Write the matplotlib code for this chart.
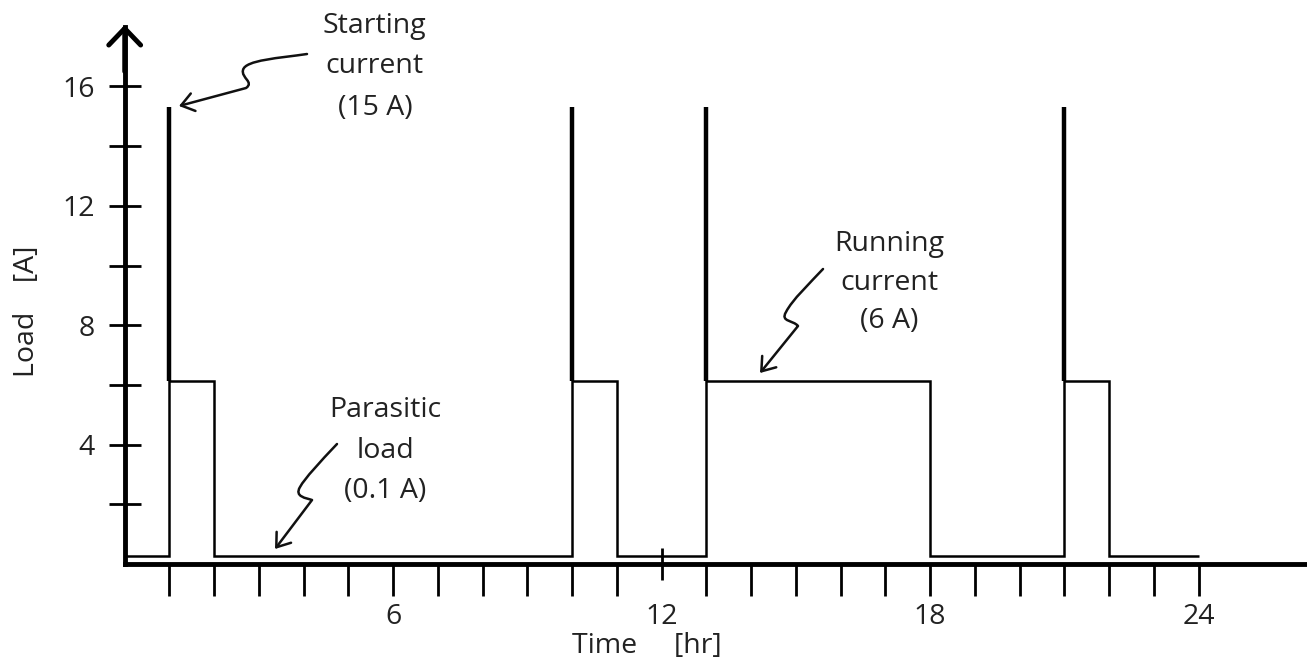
import matplotlib
matplotlib.use("Agg")
import matplotlib.pyplot as plt
from matplotlib.path import Path
from matplotlib.patches import FancyArrowPatch

# ---------------- data ----------------
step_times = [0, 1, 2, 10, 11, 13, 18, 21, 22, 24]          # hours
step_loads = [0.27, 6.14, 0.27, 6.14, 0.27, 6.14, 0.27, 6.14, 0.27]  # A
start_times = [1, 10, 13, 21]                                 # hours
start_peaks = [15.3, 15.3, 15.3, 15.3]                        # A
running_level = 6.14

x_major = [6, 12, 18, 24]
x_major_labels = ["6", "12", "18", "24"]
x_minor = [h for h in range(1, 24) if h not in x_major]
y_major = [4, 8, 12, 16]
y_major_labels = ["4", "8", "12", "16"]
y_minor = [2, 6, 10, 14]

# ---------------- figure ----------------
W, H, DPI = 1307, 661, 100
PX_HR, PX_A = 44.75, 29.85
X0, Y0 = 124.7, 564.0

plt.rcParams['font.family'] = ['Open Sans', 'DejaVu Sans']
TXT = '#222222'
FS = 20.5

fig = plt.figure(figsize=(W / DPI, H / DPI), dpi=DPI)
ax = fig.add_axes([0, 0, 1, 1])
ax.set_xlim(-X0 / PX_HR, (W - X0) / PX_HR)
ax.set_ylim(-(H - Y0) / PX_A, Y0 / PX_A)
ax.patch.set_visible(False)

for s in ('top', 'right'):
    ax.spines[s].set_visible(False)
ax.spines['left'].set_position(('data', 0))
ax.spines['bottom'].set_position(('data', 0))
ax.spines['left'].set_bounds(0, 18.0)
ax.spines['bottom'].set_bounds(0, 26.6)
for s in ('left', 'bottom'):
    ax.spines[s].set_linewidth(3.5)
    ax.spines[s].set_color('black')

# axis arrow heads
head = '->,head_length=1.2,head_width=1.15'
ax.annotate('', xy=(0, 18.06), xytext=(0, 16.5),
            arrowprops=dict(arrowstyle=head, lw=3.5, color='black',
                            shrinkA=0, shrinkB=0, mutation_scale=10))
ax.annotate('', xy=(26.55, 0), xytext=(25.0, 0),
            arrowprops=dict(arrowstyle=head, lw=3.5, color='black',
                            shrinkA=0, shrinkB=0, mutation_scale=10))

# ticks
ax.set_xticks(x_major, x_major_labels)
ax.set_xticks(x_minor, minor=True)
ax.set_yticks(y_major, y_major_labels)
ax.set_yticks(y_minor, minor=True)
ax.tick_params(axis='x', which='both', direction='out', length=23, width=2,
               color='black')
ax.tick_params(axis='x', which='major', pad=5, labelsize=FS, labelcolor=TXT)
ax.tick_params(axis='y', which='both', direction='inout', length=23, width=2,
               color='black')
ax.tick_params(axis='y', which='major', pad=9.9, labelsize=FS, labelcolor=TXT)
t12 = ax.xaxis.get_major_ticks()[1]
t12.tick1line.set_marker('|')
t12.tick1line.set_markersize(23)

# axis labels
ax.set_xlabel('Time     [hr]', fontsize=FS, color=TXT)
ax.xaxis.set_label_coords(647 / W, (H - 646) / H)
ax.xaxis.label.set_va('center')
ax.set_ylabel('Load    [A]', fontsize=FS, color=TXT)
ax.yaxis.set_label_coords(27 / W, (H - 311) / H)
ax.yaxis.label.set_va('center')
ax.yaxis.label.set_rotation_mode('anchor')

# ---------------- marks ----------------
ax.stairs(step_loads, step_times, baseline=None, color='black', lw=1.8)
ax.vlines(start_times, running_level, start_peaks, color='black', lw=3.2)

# ---------------- annotations ----------------
def squiggle(verts):
    codes = [Path.MOVETO, Path.CURVE4, Path.CURVE4, Path.CURVE4,
             Path.CURVE4, Path.CURVE4, Path.CURVE4, Path.LINETO]
    p = FancyArrowPatch(path=Path(verts, codes),
                        arrowstyle='->,head_length=0.9,head_width=0.65',
                        mutation_scale=10, lw=1.8, color='#111111')
    ax.add_patch(p)

squiggle([(4.074, 17.085), (3.470, 16.951), (2.688, 16.884), (2.644, 16.549),
          (2.599, 16.281), (2.900, 16.147), (2.711, 15.946), (1.213, 15.343)])
squiggle([(4.744, 4.02), (4.364, 3.417), (4.029, 2.881), (3.918, 2.580),
          (3.783, 2.245), (4.060, 2.211), (4.186, 2.144), (3.359, 0.503)])
squiggle([(15.605, 9.883), (15.314, 9.414), (14.912, 8.844), (14.778, 8.442),
          (14.644, 8.107), (14.940, 8.174), (15.046, 7.973), (14.197, 6.399)])

def label(xc, baselines, lines):
    for yb, s in zip(baselines, lines):
        ax.text(xc, yb, s, ha='center', va='baseline', fontsize=FS, color=TXT)

label(5.59, [17.79, 16.45, 15.05], ['Starting', 'current', '(15 A)'])
label(5.82, [4.92, 3.55, 2.21], ['Parasitic', 'load', '(0.1 A)'])
label(17.08, [10.49, 9.18, 7.91], ['Running', 'current', '(6 A)'])

fig.savefig('out.png', dpi=DPI, facecolor='white')
